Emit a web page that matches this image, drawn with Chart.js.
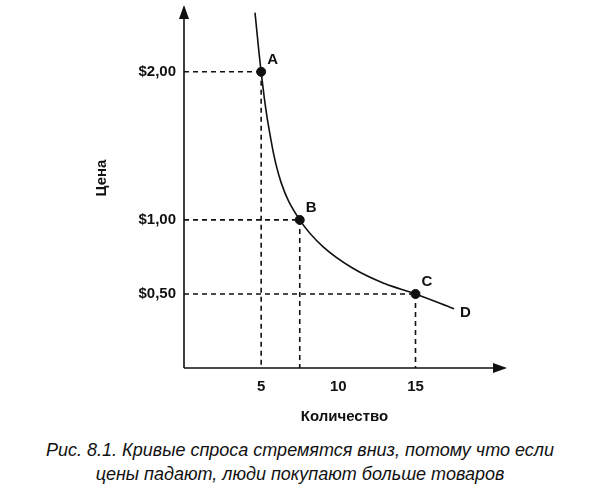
<!DOCTYPE html>
<html><head><meta charset="utf-8">
<script src="https://cdn.jsdelivr.net/npm/chart.js@4"></script>
<style>
body{margin:0;background:#fff;font-family:"Liberation Sans",Arial,sans-serif}
#wrap{position:relative;width:600px;height:430px}
#cap{width:600px;text-align:center;font-style:italic;font-size:18px;line-height:24px;color:#111;margin-top:8px}
</style></head><body>
<div id="wrap"><canvas id="c"></canvas></div>
<div id="cap">Рис. 8.1. Кривые спроса стремятся вниз, потому что если<br>цены падают, люди покупают больше товаров</div>
<script>
const curveX = [4.6, 5, 5.5, 6.3, 7.5, 9, 11, 13, 15, 17.5];
const curveY = [2.4, 2.0, 1.62, 1.25, 1.0, 0.82, 0.67, 0.57, 0.5, 0.4];
const pointX = [5, 7.5, 15];
const pointY = [2.0, 1.0, 0.5];
const pointNames = ['A', 'B', 'C'];
const xTicks = [5, 10, 15];
const yTicks = [0.5, 1.0, 2.0];
const fmt = v => '$' + v.toFixed(2).replace('.', ',');

const extras = {
  id: 'extras',
  afterDatasetsDraw(chart) {
    const ctx = chart.ctx, x = chart.scales.x, y = chart.scales.y;
    const x0 = x.left, y0 = y.bottom, yt = y.top - 10;
    ctx.save();
    ctx.strokeStyle = '#111'; ctx.lineWidth = 1.6; ctx.setLineDash([5, 4]);
    pointX.forEach((v, i) => {
      const px = x.getPixelForValue(v), py = y.getPixelForValue(pointY[i]);
      ctx.beginPath(); ctx.moveTo(x0, py); ctx.lineTo(px, py); ctx.moveTo(px, py); ctx.lineTo(px, y0); ctx.stroke();
    });
    ctx.setLineDash([]);
    ctx.beginPath(); ctx.moveTo(x0, y0); ctx.lineTo(x0, yt); ctx.moveTo(x0, y0); ctx.lineTo(x.right, y0); ctx.stroke();
    ctx.fillStyle = '#111';
    ctx.beginPath(); ctx.moveTo(x0, yt - 2); ctx.lineTo(x0 - 5, yt + 12); ctx.lineTo(x0 + 5, yt + 12); ctx.fill();
    ctx.beginPath(); ctx.moveTo(x.right + 2, y0); ctx.lineTo(x.right - 12, y0 - 5); ctx.lineTo(x.right - 12, y0 + 5); ctx.fill();
    ctx.font = 'bold 15px "Liberation Sans", Arial';
    ctx.textBaseline = 'middle';
    pointX.forEach((v, i) => {
      ctx.fillText(pointNames[i], x.getPixelForValue(v) + 6, y.getPixelForValue(pointY[i]) - 12);
    });
    const n = curveX.length - 1;
    ctx.fillText('D', x.getPixelForValue(curveX[n]) + 6, y.getPixelForValue(curveY[n]) + 4);
    ctx.translate(102, 178); ctx.rotate(-Math.PI / 2);
    ctx.textAlign = 'center';
    ctx.fillText('Цена', 0, 0);
    ctx.restore();
  }
};

const tickFont = { size: 15, weight: 'bold', family: 'Liberation Sans' };

new Chart(document.getElementById('c'), {
  type: 'scatter',
  data: {
    datasets: [
      { data: curveX.map((v, i) => ({x: v, y: curveY[i]})), showLine: true, tension: 0.4, clip: false,
        borderColor: '#111', borderWidth: 1.6, pointRadius: 0 },
      { data: pointX.map((v, i) => ({x: v, y: pointY[i]})), pointRadius: 4.5,
        backgroundColor: '#111', borderColor: '#111' }
    ]
  },
  options: {
    responsive: true, maintainAspectRatio: false, animation: false,
    layout: { padding: { top: 3, right: 95 } },
    plugins: { legend: { display: false }, tooltip: { enabled: false } },
    scales: {
      x: {
        min: 0, max: 20.8,
        grid: { display: false, drawTicks: false }, border: { display: false },
        afterBuildTicks: s => { s.ticks = xTicks.map(v => ({value: v})); },
        ticks: { color: '#111', padding: 10, font: tickFont },
        title: { display: true, text: 'Количество', color: '#111', padding: { top: 10 }, font: tickFont },
        afterFit: s => { s.height = 62; }
      },
      y: {
        min: 0, max: 2.37,
        grid: { display: false, drawTicks: false }, border: { display: false },
        afterBuildTicks: s => { s.ticks = yTicks.map(v => ({value: v})); },
        ticks: { color: '#111', padding: 8, font: tickFont, callback: v => fmt(v) },
        afterFit: s => { s.width = 184; }
      }
    }
  },
  plugins: [extras]
});
</script>
</body></html>
